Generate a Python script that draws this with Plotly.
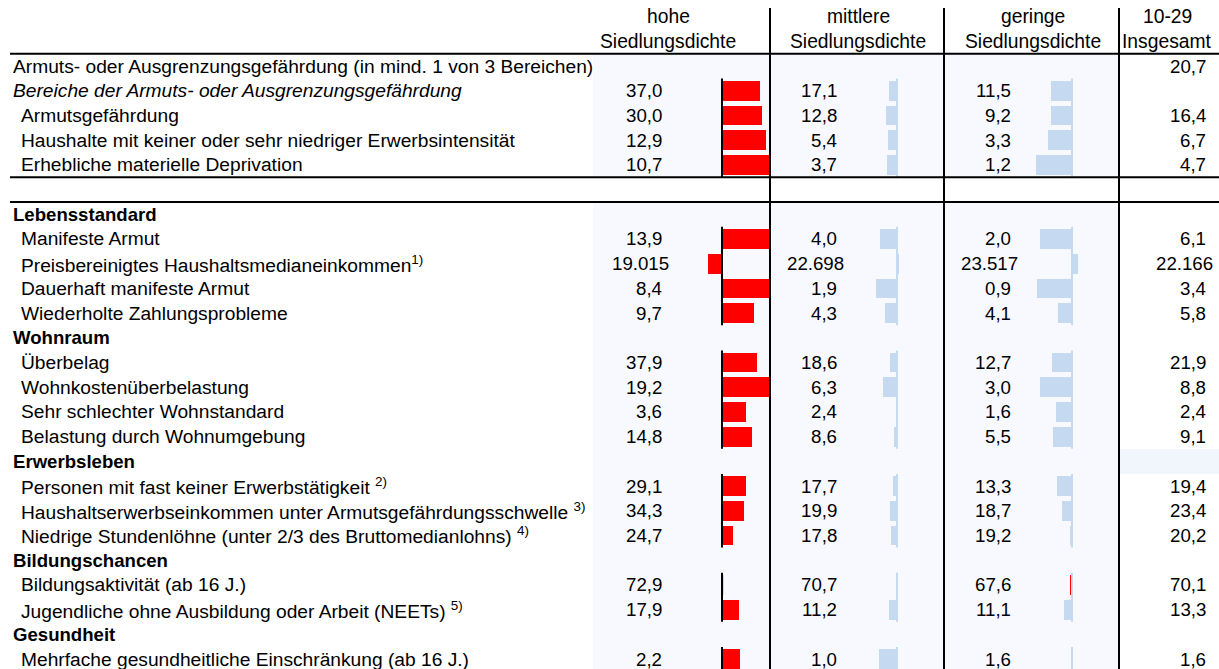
import numpy as np
import plotly.graph_objects as go

# ---------------- data ----------------
labels = [
    "Armuts- oder Ausgrenzungsgefährdung (in mind. 1 von 3 Bereichen)",
    "Bereiche der Armuts- oder Ausgrenzungsgefährdung",
    "Armutsgefährdung",
    "Haushalte mit keiner oder sehr niedriger Erwerbsintensität",
    "Erhebliche materielle Deprivation",
    "",
    "Lebensstandard",
    "Manifeste Armut",
    "Preisbereinigtes Haushaltsmedianeinkommen<sup>1)</sup>",
    "Dauerhaft manifeste Armut",
    "Wiederholte Zahlungsprobleme",
    "Wohnraum",
    "Überbelag",
    "Wohnkostenüberbelastung",
    "Sehr schlechter Wohnstandard",
    "Belastung durch Wohnumgebung",
    "Erwerbsleben",
    "Personen mit fast keiner Erwerbstätigkeit <sup>2)</sup>",
    "Haushaltserwerbseinkommen unter Armutsgefährdungsschwelle <sup>3)</sup>",
    "Niedrige Stundenlöhne (unter 2/3 des Bruttomedianlohns) <sup>4)</sup>",
    "Bildungschancen",
    "Bildungsaktivität (ab 16 J.)",
    "Jugendliche ohne Ausbildung oder Arbeit (NEETs) <sup>5)</sup>",
    "Gesundheit",
    "Mehrfache gesundheitliche Einschränkung (ab 16 J.)",
]
label_style = ["top", "italic", "item", "item", "item", "blank",
               "section", "item", "item", "item", "item",
               "section", "item", "item", "item", "item",
               "section", "item", "item", "item",
               "section", "item", "item",
               "section", "item"]

hohe = [None, 37.0, 30.0, 12.9, 10.7, None, None, 13.9, 19015, 8.4, 9.7, None,
        37.9, 19.2, 3.6, 14.8, None, 29.1, 34.3, 24.7, None, 72.9, 17.9, None, 2.2]
mittlere = [None, 17.1, 12.8, 5.4, 3.7, None, None, 4.0, 22698, 1.9, 4.3, None,
            18.6, 6.3, 2.4, 8.6, None, 17.7, 19.9, 17.8, None, 70.7, 11.2, None, 1.0]
geringe = [None, 11.5, 9.2, 3.3, 1.2, None, None, 2.0, 23517, 0.9, 4.1, None,
           12.7, 3.0, 1.6, 5.5, None, 13.3, 18.7, 19.2, None, 67.6, 11.1, None, 1.6]
insgesamt = [20.7, None, 16.4, 6.7, 4.7, None, None, 6.1, 22166, 3.4, 5.8, None,
             21.9, 8.8, 2.4, 9.1, None, 19.4, 23.4, 20.2, None, 70.1, 13.3, None, 1.6]

header_top = ["hohe", "mittlere", "geringe", "10-29"]
header_bottom = ["Siedlungsdichte", "Siedlungsdichte", "Siedlungsdichte", "Insgesamt"]

# reference for the bars: row 1 compares with the overall rate of row 0
reference = list(insgesamt)
reference[1] = insgesamt[0]
higher_is_better = {8, 21}
income_rows = {8}
bar_gain = {8: 2.0}
bar_blocks = [(1, 4), (7, 10), (12, 15), (17, 19), (21, 22), (24, 24)]

# ---------------- styling ----------------
W, H = 1219, 669
ROW0_PX, PITCH = 66.0, 24.71
y_top = -ROW0_PX / PITCH
y_bot = (H - ROW0_PX) / PITCH
FONT = "Liberation Sans, Arial, sans-serif"
FS_LABEL = 19.2
FS_BOLD = 18.6
FS_HEAD = 19.3
FS_NUM = 18.7
RED = "#FF0000"
BLUE = "#C5D9F1"
BG = "#F7F9FE"

n = len(labels)


def fmt(v, i):
    if v is None:
        return ""
    if i in income_rows:
        return f"{v:,.0f}".replace(",", ".")
    return f"{v:.1f}".replace(".", ",")


def bars(values):
    ys, xs, cols = [], [], []
    for i, v in enumerate(values):
        ref = reference[i]
        if v is None or ref is None:
            continue
        dev = (v / ref - 1.0) * bar_gain.get(i, 1.0)
        dev = float(np.clip(dev, -1, 1))
        if abs(dev) < 0.03:
            dev = 0.03 if dev >= 0 else -0.03
        worse = (v < ref) if i in higher_is_better else (v >= ref)
        ys.append(i)
        xs.append(dev)
        cols.append(RED if worse else BLUE)
    return ys, xs, cols


fig = go.Figure()

col_axes = [("x2", 722), ("x3", 897), ("x4", 1072)]
for (ax, base), vals in zip(col_axes, [hohe, mittlere, geringe]):
    ys, xs, cols = bars(vals)
    fig.add_trace(go.Bar(x=xs, y=ys, orientation="h", base=0, xaxis=ax, yaxis="y",
                         marker=dict(color=cols, line=dict(width=0)), width=0.8,
                         showlegend=False, hoverinfo="skip"))

layout_axes = {}
for ax, base in col_axes:
    name = "xaxis" + ax[1:]
    layout_axes[name] = dict(domain=[(base - 48) / W, (base + 48) / W], range=[-1, 1],
                             anchor="y", visible=False, fixedrange=True)

fig.update_layout(
    width=W, height=H, autosize=False,
    margin=dict(l=0, r=0, t=0, b=0, pad=0),
    paper_bgcolor="white", plot_bgcolor="rgba(0,0,0,0)",
    xaxis=dict(domain=[0, 1], range=[0, W], visible=False, fixedrange=True),
    yaxis=dict(domain=[0, 1], range=[y_bot, y_top], visible=False, fixedrange=True),
    font=dict(family=FONT, size=FS_NUM, color="black"),
    bargap=0, showlegend=False,
    **layout_axes,
)

shapes = []
# light background of data area
for (a, b) in [(-0.5, 4.5), (5.5, y_bot + 1)]:
    shapes.append(dict(type="rect", xref="x", yref="y", x0=593, x1=1119, y0=a, y1=b,
                       fillcolor=BG, line=dict(width=0), layer="below"))
shapes.append(dict(type="rect", xref="x", yref="y", x0=1119, x1=W, y0=15.5, y1=16.5,
                   fillcolor="#F1F5FC", line=dict(width=0), layer="below"))
# baselines
for (ax, base), colr in zip(col_axes, ["black", BLUE, BLUE]):
    for a, b in bar_blocks:
        shapes.append(dict(type="line", xref=ax, yref="y", x0=0, x1=0, y0=a - 0.49, y1=b + 0.49,
                           line=dict(color=colr, width=2), layer="above"))
# vertical separators
for xv in [770, 944, 1119]:
    shapes.append(dict(type="line", xref="x", yref="y", x0=xv, x1=xv, y0=y_top + 8 / PITCH,
                       y1=y_bot + 1, line=dict(color="black", width=2), layer="above"))
# horizontal rules
for yv in [-0.5, 4.5, 5.5]:
    shapes.append(dict(type="line", xref="x", yref="y", x0=10, x1=W, y0=yv, y1=yv,
                       line=dict(color="black", width=2), layer="above"))
fig.update_layout(shapes=shapes)

ann = []
hdr_x = [668, 858, 1033, 1167]
for xc, t1, t2 in zip(hdr_x, header_top, header_bottom):
    ann.append(dict(x=xc, y=-2, text=t1, xanchor="center", size=FS_HEAD))
    ann.append(dict(x=xc, y=-1, text=t2, xanchor="center", size=FS_HEAD))

for i, (lab, st) in enumerate(zip(labels, label_style)):
    if st == "blank":
        continue
    txt = lab
    x0 = 12
    size = FS_LABEL
    if st == "italic":
        txt = "<i>" + lab + "</i>"
    elif st == "section":
        txt = "<b>" + lab + "</b>"
        size = FS_BOLD
    elif st == "item":
        x0 = 20
    ann.append(dict(x=x0, y=i, text=txt, xanchor="left", size=size))

val_x = [663, 838, 1012, 1207]
for xr, vals in zip(val_x, [hohe, mittlere, geringe, insgesamt]):
    for i, v in enumerate(vals):
        if v is None:
            continue
        xx = xr + (7 if i in income_rows else 0)
        ann.append(dict(x=xx, y=i, text=fmt(v, i), xanchor="right", size=FS_NUM))

final_ann = []
for a in ann:
    size = a.pop("size")
    a.update(xref="x", yref="y", yanchor="middle", showarrow=False,
             font=dict(family=FONT, size=size, color="black"), borderpad=0)
    final_ann.append(a)
fig.update_layout(annotations=final_ann)

fig.write_html("out.html", config={"displayModeBar": False, "staticPlot": True},
               post_script="document.body.style.margin='0px';")
